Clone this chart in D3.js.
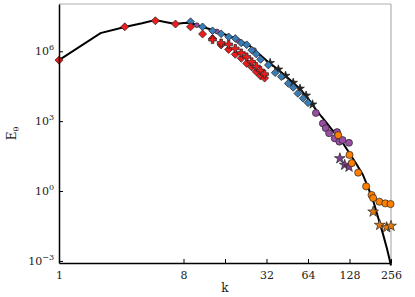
<!doctype html>
<html lang="en">
  <head>
    <meta charset="utf-8">
    <script src="https://d3js.org/d3.v7.min.js"></script>
    <style>
      body { margin: 0; background: #fff; }
      text { font-family: "DejaVu Serif", serif; fill: #222; }
    </style>
  </head>
  <body>
    <div class='visholder'></div>
    <script>
      // values are log10(E)
      const lineK = [1, 2, 3, 4, 5, 6, 7, 8, 9, 10, 12, 14, 16, 20, 24, 28, 32, 40, 48, 56, 64, 72, 80, 88, 96, 112, 128, 144, 160, 176, 192, 208, 224, 240, 256]
      const lineE = [5.62, 6.78, 7.04, 7.2, 7.34, 7.25, 7.17, 7.21, 7.22, 7.12, 6.98, 6.85, 6.72, 6.5, 6.25, 5.9, 5.6, 5.15, 4.75, 4.38, 3.98, 3.55, 3.2, 2.9, 2.62, 2.15, 1.62, 1.15, 0.7, 0.1, -0.5, -1.2, -1.85, -2.5, -3.2]

      const redDK = [1, 3, 5, 7, 9, 11, 13, 15, 17, 19, 21, 23, 25, 27, 29, 31]
      const redDE = [5.62, 7.05, 7.31, 7.17, 7.05, 6.74, 6.55, 6.27, 6.08, 5.87, 5.70, 5.48, 5.33, 5.12, 4.94, 4.85]

      const redPK = [13, 15, 17, 19, 21, 23, 25, 27, 29, 31]
      const redPE = [6.5, 6.36, 6.3, 6.12, 5.93, 5.76, 5.55, 5.35, 5.18, 5.02]

      const blueK = [9, 11, 13, 15, 17, 19, 21, 23, 25, 27, 29, 33, 37, 41, 46, 50, 54, 59, 64]
      const blueE = [7.27, 7.05, 6.88, 6.75, 6.62, 6.55, 6.36, 6.28, 6.05, 5.88, 5.65, 5.41, 5.08, 4.91, 4.62, 4.45, 4.19, 3.98, 3.79]

      const blackStarK = [34, 39, 44, 50, 56, 62, 69]
      const blackStarE = [5.5, 5.22, 4.95, 4.65, 4.4, 4.1, 3.72]

      const purpleSmallK = [10, 14, 20, 26]
      const purpleSmallE = [7.12, 6.85, 6.45, 6.05]

      const purpleK = [73, 82, 86, 91, 100, 104, 108, 114, 127]
      const purpleE = [3.35, 2.9, 2.7, 2.48, 2.26, 2.53, 2.12, 2.19, 2.07]

      const purpleStarK = [109, 118, 127]
      const purpleStarE = [1.40, 1.12, 1.04]

      const orangeK = [106, 128, 133, 148, 169, 185, 190, 211, 233, 254]
      const orangeE = [2.4, 1.55, 1.2, 0.79, 0.2, -0.17, -0.3, -0.46, -0.53, -0.56]

      const orangeStarK = [190, 212, 238, 256]
      const orangeStarE = [-0.89, -1.46, -1.56, -1.5]

      const xTicks = [1, 8, 16, 32, 64, 128, 256]
      const xTickLabels = ['1', '8', '', '32', '64', '128', '256']
      const yTicks = [-3, 0, 3, 6]

      const w = 415
      const h = 297
      const padL = 59, padR = 391, padT = 4, padB = 263

      const svg = d3.select('.visholder')
        .append('svg')
        .attr('width', w)
        .attr('height', h)

      const xScale = d3.scaleLog().base(2)
        .domain([1, 256])
        .range([padL, padR])

      const yScale = d3.scaleLog()
        .domain([Math.pow(10, -3.09), Math.pow(10, 8.03)])
        .range([padB, padT])

      const zip = (ks, es) => ks.map((k, i) => [k, Math.pow(10, es[i])])

      // frame: top and right in grey
      svg.append('line').attr('x1', padL).attr('x2', padR).attr('y1', padT).attr('y2', padT)
        .attr('stroke', '#b0b0b0').attr('stroke-width', 1.2)
      svg.append('line').attr('x1', padR).attr('x2', padR).attr('y1', padT).attr('y2', padB)
        .attr('stroke', '#b0b0b0').attr('stroke-width', 1.2)

      // black line
      const line = d3.line()
        .x(d => xScale(d[0]))
        .y(d => yScale(d[1]))
      svg.append('path')
        .datum(zip(lineK, lineE))
        .attr('d', line)
        .attr('fill', 'none')
        .attr('stroke', '#000')
        .attr('stroke-width', 2)

      // markers
      const drawSeries = (ks, es, type, size, fill, rot) => {
        svg.append('g').selectAll('path')
          .data(zip(ks, es))
          .enter()
          .append('path')
          .attr('d', d3.symbol().type(type).size(size))
          .attr('transform', d => 'translate(' + xScale(d[0]) + ',' + yScale(d[1]) + ') rotate(' + (rot || 0) + ')')
          .attr('fill', fill)
          .attr('stroke', '#222')
          .attr('stroke-width', 0.7)
      }

      drawSeries(blackStarK, blackStarE, d3.symbolStar, 24, '#222')
      drawSeries(purpleSmallK, purpleSmallE, d3.symbolCircle, 18, '#984ea3')
      drawSeries(blueK, blueE, d3.symbolSquare, 30, '#377eb8', 45)
      drawSeries(redDK, redDE, d3.symbolSquare, 32, '#ee1c1c', 45)
      drawSeries(redPK, redPE, d3.symbolCross, 34, '#ee1c1c')
      drawSeries(purpleK, purpleE, d3.symbolCircle, 38, '#984ea3')
      drawSeries(purpleStarK, purpleStarE, d3.symbolStar, 36, '#7b3f8a')
      drawSeries(orangeK, orangeE, d3.symbolCircle, 40, '#ff7f00')
      drawSeries(orangeStarK, orangeStarE, d3.symbolStar, 36, '#e07a10')

      // axes
      const xAxis = d3.axisBottom(xScale)
        .tickValues(xTicks)
        .tickFormat((d, i) => xTickLabels[i])
        .tickSizeInner(-4)
        .tickSizeOuter(0)
        .tickPadding(8)
      const gx = svg.append('g')
        .attr('transform', 'translate(0,' + padB + ')')
        .call(xAxis)
      gx.select('.domain').attr('stroke', '#000').attr('stroke-width', 1.5)
      gx.selectAll('.tick line').attr('stroke', '#000').attr('stroke-width', 1)
      gx.selectAll('.tick text')
        .style('font-family', '"DejaVu Serif", serif')
        .style('font-size', '11px')
        .attr('fill', '#222')

      const yAxis = d3.axisLeft(yScale)
        .tickValues(yTicks.map(t => Math.pow(10, t)))
        .tickFormat('')
        .tickSizeInner(-4)
        .tickSizeOuter(0)
      const gy = svg.append('g')
        .attr('transform', 'translate(' + padL + ',0)')
        .call(yAxis)
      gy.select('.domain').attr('stroke', '#000').attr('stroke-width', 1.5)
      gy.selectAll('.tick line').attr('stroke', '#000').attr('stroke-width', 1)

      // y tick labels with superscripts
      yTicks.forEach(t => {
        const lab = svg.append('text')
          .attr('x', padL - 5)
          .attr('y', yScale(Math.pow(10, t)) + 4)
          .attr('text-anchor', 'end')
          .style('font-size', '11px')
        lab.append('tspan').text('10')
        lab.append('tspan')
          .attr('dy', -5)
          .style('font-size', '8px')
          .text(t < 0 ? '\u2212' + Math.abs(t) : String(t))
      })

      // axis titles
      svg.append('text')
        .attr('x', (padL + padR) / 2)
        .attr('y', 292)
        .attr('text-anchor', 'middle')
        .style('font-size', '12px')
        .text('k')

      const ylab = svg.append('text')
        .attr('transform', 'translate(16,' + ((padT + padB) / 2) + ') rotate(-90)')
        .attr('text-anchor', 'middle')
        .style('font-size', '12px')
      ylab.append('tspan').text('E')
      ylab.append('tspan')
        .attr('dy', 3)
        .style('font-size', '8px')
        .text('\u03b8')
    </script>
  </body>
</html>
